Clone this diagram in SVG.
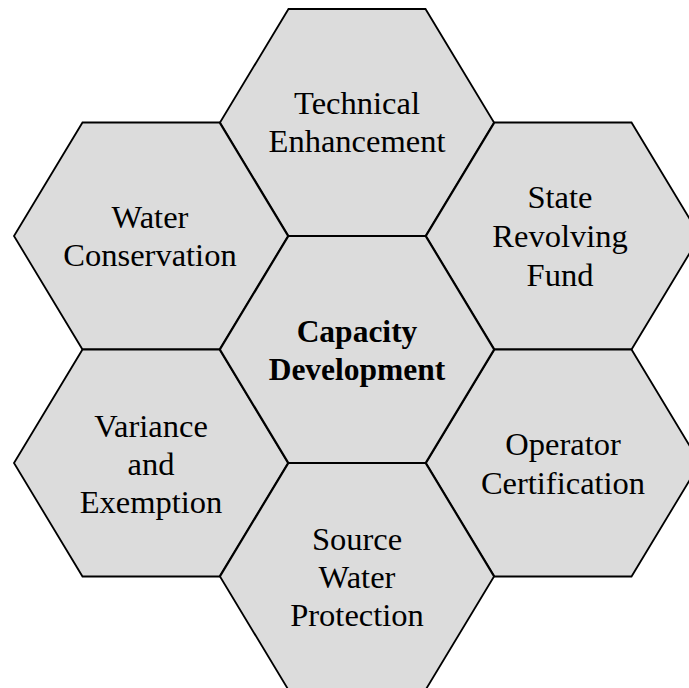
<svg xmlns="http://www.w3.org/2000/svg" width="689" height="688" viewBox="0 0 689 688">
<style>
.hex{fill:#dcdcdc;stroke:#000;stroke-width:1.8;stroke-linejoin:miter}
text{font-family:"Liberation Serif","Times New Roman",serif;font-size:32.5px;fill:#000;text-anchor:middle}
.b{font-weight:bold;font-size:31.5px}
</style>
<defs>
<polygon id="h" points="-68.5,-113.5 68.5,-113.5 137,0 68.5,113.5 -68.5,113.5 -137,0"/>
</defs>
<rect width="689" height="688" fill="#fff"/>
<g id="technical-enhancement">
<use href="#h" class="hex" x="357" y="122.5"/>
<text x="357" y="114">Technical</text>
<text x="357" y="152">Enhancement</text>
</g>
<g id="water-conservation">
<use href="#h" class="hex" x="151" y="236"/>
<text x="150" y="228">Water</text>
<text x="150" y="266">Conservation</text>
</g>
<g id="state-revolving-fund">
<use href="#h" class="hex" x="563" y="236"/>
<text x="560" y="208">State</text>
<text x="560" y="247">Revolving</text>
<text x="560" y="286">Fund</text>
</g>
<g id="variance-exemption">
<use href="#h" class="hex" x="151" y="463"/>
<text x="151" y="437">Variance</text>
<text x="151" y="475">and</text>
<text x="151" y="513">Exemption</text>
</g>
<g id="operator-certification">
<use href="#h" class="hex" x="563" y="463"/>
<text x="563" y="455">Operator</text>
<text x="563" y="494">Certification</text>
</g>
<g id="source-water-protection">
<use href="#h" class="hex" x="357" y="576.5"/>
<text x="357" y="550">Source</text>
<text x="357" y="588">Water</text>
<text x="357" y="626">Protection</text>
</g>
<g id="capacity-development">
<use href="#h" class="hex" x="357" y="349.5"/>
<text class="b" x="357" y="342">Capacity</text>
<text class="b" x="357" y="380">Development</text>
</g>
<g id="connectors"></g>
</svg>
